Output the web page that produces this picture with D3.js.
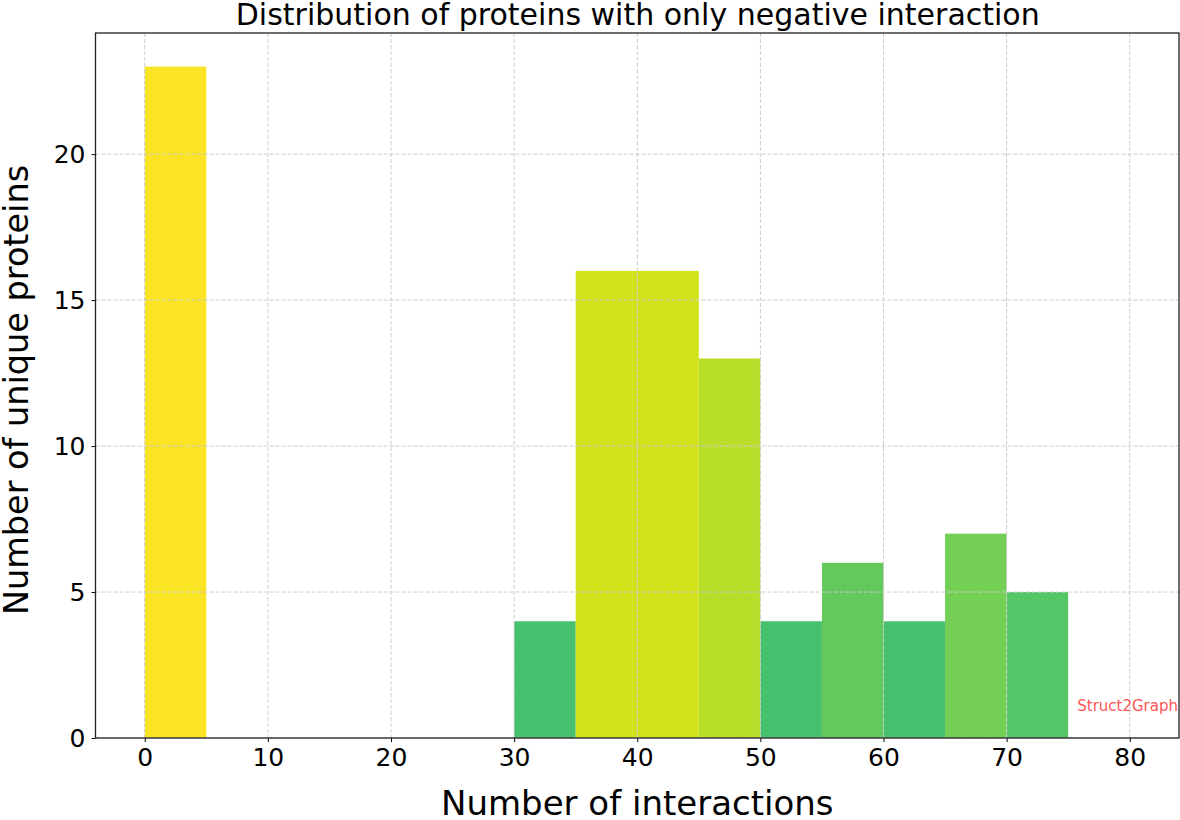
<!DOCTYPE html>
<html><head><meta charset="utf-8">
<script src="https://cdn.jsdelivr.net/npm/d3@7"></script>
<style>body{margin:0;background:#fff;} svg{display:block;font-family:"DejaVu Sans",sans-serif;}</style>
</head><body>
<svg id="chart" width="1180" height="820"></svg>
<script>
const binStarts = [0,5,10,15,20,25,30,35,40,45,50,55,60,65,70,75];
const binWidth = 5;
const counts = [23,0,0,0,0,0,4,16,16,13,4,6,4,7,5,0];
const barColors = ["#fbe423","#fbe423","#fbe423","#fbe423","#fbe423","#fbe423","#48c16e","#d2e21b","#d2e21b","#b8de29","#48c16e","#63c95d","#48c16e","#73d055","#55c667","#55c667"];
const xTicks = [0,10,20,30,40,50,60,70,80];
const yTicks = [0,5,10,15,20];
const title = "Distribution of proteins with only negative interaction";
const xLabel = "Number of interactions";
const yLabel = "Number of unique proteins";
const watermark = "Struct2Graph";

const svg = d3.select("#chart");
const L = 95.5, R = 1179, T = 33, B = 738;
const x = d3.scaleLinear().domain([-4, 84]).range([L, R]);
const y = d3.scaleLinear().domain([0, 24.15]).range([B, T]);

const data = binStarts.map((s,i)=>({s, c: counts[i], col: barColors[i]})).filter(d=>d.c>0);

svg.append("g").selectAll("rect").data(data).join("rect")
  .attr("x", d=>x(d.s)).attr("width", d=>x(d.s+binWidth)-x(d.s))
  .attr("y", d=>y(d.c)).attr("height", d=>y(0)-y(d.c))
  .attr("fill", d=>d.col);

// grid (on top of bars, like matplotlib default)
const grid = svg.append("g").attr("stroke","#cccccc").attr("stroke-width",1).attr("stroke-dasharray","4,2").attr("fill","none");
xTicks.forEach(t=>grid.append("line").attr("x1",x(t)).attr("x2",x(t)).attr("y1",T).attr("y2",B));
yTicks.forEach(t=>grid.append("line").attr("x1",L).attr("x2",R).attr("y1",y(t)).attr("y2",y(t)));

// axes
const xAxis = d3.axisBottom(x).tickValues(xTicks).tickSize(4).tickPadding(6).tickFormat(d3.format("d"));
const gx = svg.append("g").attr("transform",`translate(0,${B})`).call(xAxis);
gx.select(".domain").remove();
gx.selectAll("text").attr("font-size",25).attr("fill","#000").attr("font-family","DejaVu Sans");
gx.selectAll("line").attr("stroke","#000");

const yAxis = d3.axisLeft(y).tickValues(yTicks).tickSize(4).tickPadding(6).tickFormat(d3.format("d"));
const gy = svg.append("g").attr("transform",`translate(${L},0)`).call(yAxis);
gy.select(".domain").remove();
gy.selectAll("text").attr("font-size",25).attr("fill","#000").attr("font-family","DejaVu Sans");
gy.selectAll("line").attr("stroke","#000");

// frame
svg.append("rect").attr("x",L).attr("y",T).attr("width",R-L).attr("height",B-T)
  .attr("fill","none").attr("stroke","#222").attr("stroke-width",1.3);

// texts
svg.append("text").attr("x",(L+R)/2 + 0.5).attr("y",25).attr("text-anchor","middle")
  .attr("font-size",30).attr("fill","#000").text(title);
svg.append("text").attr("x",(L+R)/2).attr("y",815).attr("text-anchor","middle")
  .attr("font-size",34).attr("fill","#000").text(xLabel);
svg.append("text").attr("transform",`translate(28,390) rotate(-90)`).attr("text-anchor","middle")
  .attr("font-size",33.5).attr("fill","#000").text(yLabel);
svg.append("text").attr("x",R-1).attr("y",711).attr("text-anchor","end")
  .attr("font-size",15).attr("fill","#ff5555").text(watermark);
</script>
</body></html>
